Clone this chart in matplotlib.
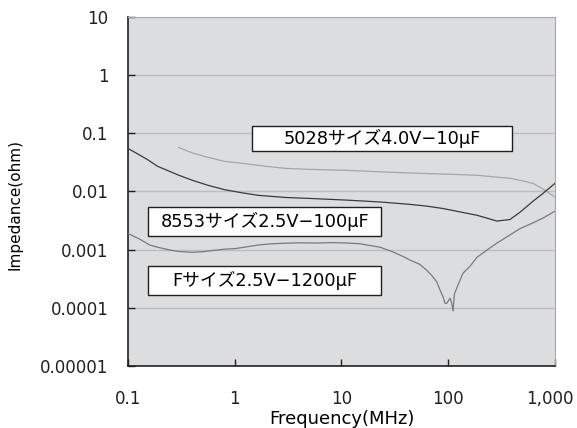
import matplotlib
matplotlib.use("Agg")
import matplotlib.pyplot as plt
from matplotlib.patches import Rectangle
from matplotlib.ticker import FixedLocator, NullLocator
from matplotlib.transforms import ScaledTranslation

plt.rcParams['font.family'] = ['DejaVu Sans', 'Noto Sans CJK JP']

# 5028サイズ 4.0V-10uF
f_5028 = [0.3, 0.4, 0.56, 0.8, 1.17, 2, 2.96, 5, 11.3, 20, 44, 100, 186, 300, 379, 500, 622, 773, 1000]
z_5028 = [0.057, 0.046, 0.0387, 0.033, 0.0305, 0.027, 0.025, 0.024, 0.0231, 0.022, 0.0208,
          0.0198, 0.019, 0.0175, 0.0169, 0.0152, 0.0138, 0.011, 0.008]

# 8553サイズ 2.5V-100uF
f_8553 = [0.1, 0.15, 0.19, 0.3, 0.4, 0.56, 0.81, 1.17, 1.65, 2.96, 5, 11.3, 23, 44, 63, 89,
          186, 286, 379, 470, 622, 773, 1000]
z_8553 = [0.055, 0.036, 0.027, 0.019, 0.0156, 0.0128, 0.0107, 0.0095, 0.0086, 0.0079, 0.0076,
          0.0071, 0.0066, 0.006, 0.0056, 0.0051, 0.0039, 0.0031, 0.0033, 0.0044, 0.0068, 0.0093, 0.0138]

# Fサイズ 2.5V-1200uF
f_F = [0.1, 0.13, 0.16, 0.19, 0.25, 0.3, 0.4, 0.5, 0.6, 0.8, 1.0, 1.3, 1.65, 2.2, 3.0, 4, 6, 8,
       11.3, 15, 23, 30, 38, 44, 54, 63, 70, 78, 84, 90, 93, 97, 104, 108, 111, 114, 121, 130,
       137, 160, 186, 230, 286, 380, 470, 600, 773, 1000]
z_F = [0.0019, 0.0015, 0.0012, 0.0011, 0.00098, 0.00093, 0.0009, 0.00092, 0.00096, 0.00102,
       0.00104, 0.00112, 0.0012, 0.00126, 0.00129, 0.00131, 0.0013, 0.00132, 0.0013, 0.00126,
       0.0011, 0.00092, 0.00076, 0.00066, 0.00056, 0.00044, 0.00036, 0.00028, 0.0002, 0.00015,
       0.00012, 0.00012, 0.000146, 0.00012, 0.000088, 0.00017, 0.000226, 0.00031, 0.00039,
       0.00052, 0.00074, 0.00098, 0.0013, 0.0018, 0.0023, 0.0028, 0.0035, 0.0046]

x_ticks = [0.1, 1, 10, 100, 1000]
x_labels = ['0.1', '1', '10', '100', '1,000']
y_ticks = [1e-5, 1e-4, 1e-3, 1e-2, 0.1, 1, 10]
y_labels = ['0.00001', '0.0001', '0.001', '0.01', '0.1', '1', '10']

labels = ['5028サイズ4.0V−10\u03bcF', '8553サイズ2.5V−100\u03bcF', 'Fサイズ2.5V−1200\u03bcF']

fig = plt.figure(figsize=(5.77, 4.28), dpi=100)
ax = fig.add_axes([0.2218, 0.1449, 0.7401, 0.8154])
ax.set_facecolor('#dcdddf')

ax.set_xscale('log')
ax.set_yscale('log')
ax.set_xlim(0.1, 1000)
ax.set_ylim(1e-5, 10)

for y in y_ticks[1:-1]:
    ax.axhline(y, color='#bdbdbd', lw=1.0, zorder=1)

ax.plot(f_5028, z_5028, color='#a6a6a6', lw=0.9, zorder=3)
ax.plot(f_8553, z_8553, color='#3a3a3a', lw=0.9, zorder=3)
ax.plot(f_F, z_F, color='#7a7a7a', lw=0.9, zorder=3)

ax.xaxis.set_major_locator(FixedLocator(x_ticks))
ax.xaxis.set_minor_locator(NullLocator())
ax.set_xticklabels(x_labels)
ax.yaxis.set_major_locator(FixedLocator(y_ticks))
ax.yaxis.set_minor_locator(NullLocator())
ax.set_yticklabels(y_labels)
ax.tick_params(axis='both', direction='in', length=5, width=1, colors='#202020', labelsize=12)
ax.tick_params(axis='x', pad=17)
ax.tick_params(axis='y', pad=14)

# keep "1,000" inside the canvas
last = ax.get_xticklabels()[-1]
last.set_transform(last.get_transform() + ScaledTranslation(-4 / 72, 0, fig.dpi_scale_trans))

for s in ['top', 'right']:
    ax.spines[s].set_color('#a8a8a8')
for s in ['left', 'bottom']:
    ax.spines[s].set_color('#202020')
    ax.spines[s].set_linewidth(1.2)

ax.set_xlabel('Frequency(MHz)', fontsize=13, labelpad=2)
ax.set_ylabel('Impedance(ohm)', fontsize=11)
ax.yaxis.set_label_coords(-0.248, 0.464)

# label boxes (axes fraction)
boxes = [(0.290, 0.616, 0.609, 0.072), (0.047, 0.372, 0.546, 0.084), (0.047, 0.203, 0.546, 0.084)]
for (x0, y0, w, h), txt in zip(boxes, labels):
    ax.add_patch(Rectangle((x0, y0), w, h, transform=ax.transAxes, facecolor='white',
                           edgecolor='#202020', lw=1.0, zorder=4))
    ax.text(x0 + w / 2, y0 + h / 2, txt, transform=ax.transAxes, ha='center', va='center',
            fontsize=12.8, zorder=5)

fig.savefig('out.png', dpi=100)
